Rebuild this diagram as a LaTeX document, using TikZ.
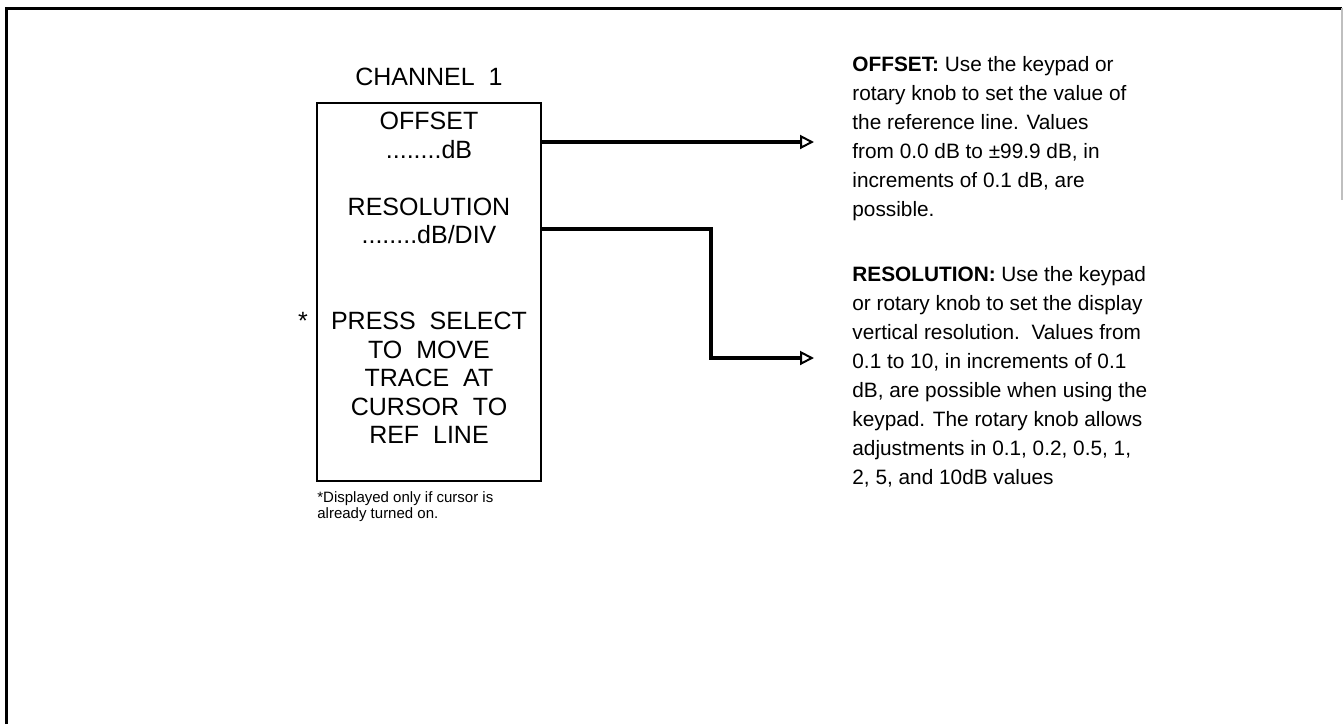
\documentclass[tikz,border=0pt]{standalone}
\usepackage{fontspec}
\setmainfont{Liberation Sans}
\usetikzlibrary{arrows.meta}
\begin{document}
\begin{tikzpicture}[x=0.5pt,y=-0.5pt,
  boxtxt/.style={font=\fontsize{12.5}{14.2}\selectfont, align=center, inner sep=0},
  desc/.style={font=\fontsize{10.4}{14.5}\selectfont, align=left, inner sep=0, anchor=north west},
  note/.style={font=\fontsize{7.5}{8}\selectfont, align=left, inner sep=0, anchor=north west},
  conn/.style={line width=2pt, -{Triangle[open,length=7pt,width=7pt,line width=1pt]}},
  frame/.style={line width=1.5pt}]
\useasboundingbox (0,0) rectangle (1344,724);
% outer frame
\draw[frame] (6,724) -- (6,8) -- (1342,8);
\draw[gray!50, line width=0.6pt] (1342,8) -- (1342,200);
% channel box
\node[boxtxt] (title) at (429,77) {CHANNEL\ \ 1};
\node[draw, line width=0.8pt, minimum width=112pt, minimum height=189pt, inner sep=0] (box) at (429,292) {};
\node[boxtxt] (off) at (429,121) {OFFSET};
\node[boxtxt] (offv) at (429,150) {........dB};
\node[boxtxt] (res) at (429,207) {RESOLUTION};
\node[boxtxt] (resv) at (429,235) {........dB/DIV};
\node[boxtxt, anchor=north] (press) at (429,312) {PRESS\ \ SELECT\\TO\ \ MOVE\\TRACE\ \ AT\\CURSOR\ \ TO\\REF\ \ LINE};
\node[boxtxt, anchor=north] (star) at (303,312) {*};
\node[note] (foot) at (317,491) {*Displayed only if cursor is\\already turned on.};
% descriptions
\node[desc] (doff) at (852,56) {\textbf{OFFSET:} Use the keypad or\\rotary knob to set the value of\\the reference line. Values\\from 0.0 dB to ±99.9 dB, in\\increments of 0.1 dB, are\\possible.};
\node[desc] (dres) at (852,266) {\textbf{RESOLUTION:} Use the keypad\\or rotary knob to set the display\\vertical resolution.\ \ Values from\\0.1 to 10, in increments of 0.1\\dB, are possible when using the\\keypad. The rotary knob allows\\adjustments in 0.1, 0.2, 0.5, 1,\\2, 5, and 10dB values};
% connectors
\coordinate (offA) at (814,142);
\coordinate (bend) at (711,229);
\coordinate (resA) at (814,358);
\draw[conn] (box.east |- offA) -- (offA);
\draw[conn] (box.east |- bend) -- (bend) |- (resA);
\end{tikzpicture}
\end{document}
